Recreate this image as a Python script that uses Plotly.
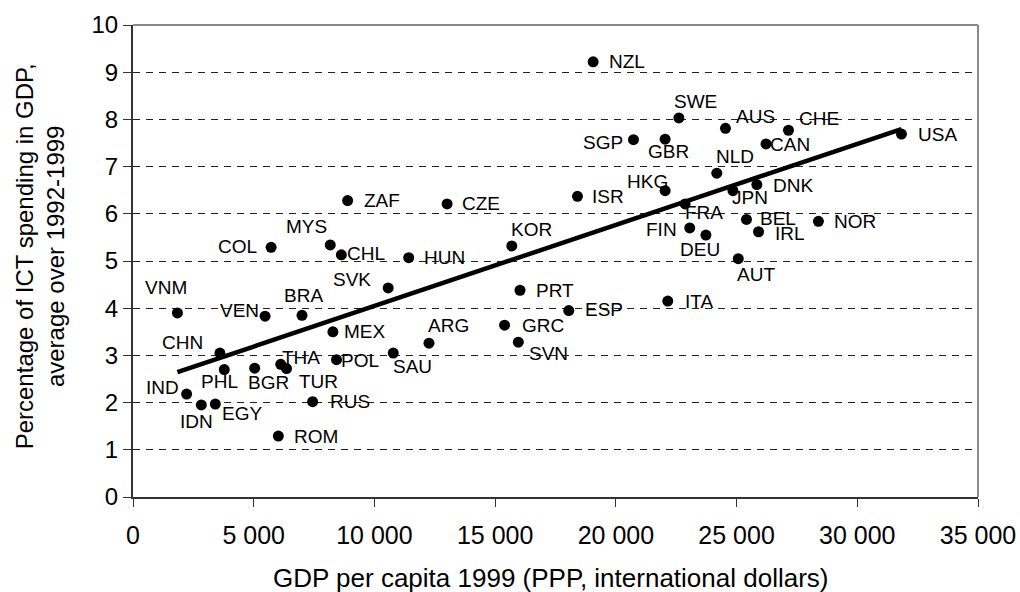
import numpy as np
import plotly.graph_objects as go

# ---- data ----
countries = ["NZL", "SWE", "AUS", "CHE", "SGP", "GBR", "CAN", "USA", "NLD", "DNK",
             "HKG", "JPN", "ISR", "FRA", "ZAF", "CZE", "BEL", "NOR", "FIN", "IRL",
             "DEU", "MYS", "KOR", "COL", "CHL", "HUN", "AUT", "SVK", "PRT", "ITA",
             "ESP", "VNM", "BRA", "VEN", "GRC", "MEX", "SVN", "ARG", "CHN", "SAU",
             "POL", "THA", "BGR", "TUR", "PHL", "IND", "RUS", "EGY", "IDN", "ROM"]
gdp_per_capita = [19060, 22610, 24540, 27150, 20730, 22040, 26220, 31830, 24180, 25840,
                  22040, 24850, 18410, 22870, 8890, 13010, 25410, 28390, 23060, 25910,
                  23730, 8170, 15690, 5720, 8630, 11420, 25070, 10570, 16030, 22150,
                  18050, 1840, 7000, 5470, 15390, 8280, 15960, 12260, 3600, 10780,
                  8430, 6120, 5040, 6360, 3780, 2220, 7440, 3410, 2830, 6020]
ict_share = [9.22, 8.03, 7.81, 7.77, 7.57, 7.58, 7.48, 7.69, 6.86, 6.62,
             6.49, 6.49, 6.37, 6.21, 6.28, 6.21, 5.88, 5.84, 5.70, 5.62,
             5.55, 5.34, 5.32, 5.29, 5.13, 5.07, 5.05, 4.43, 4.38, 4.15,
             3.95, 3.90, 3.85, 3.83, 3.64, 3.50, 3.28, 3.26, 3.05, 3.05,
             2.91, 2.81, 2.73, 2.72, 2.70, 2.18, 2.02, 1.97, 1.95, 1.29]
x_ticks = [0, 5000, 10000, 15000, 20000, 25000, 30000, 35000]
y_ticks = list(range(0, 11))

# ---- label placement (style: pixel offsets of label centre from point) ----
label_offsets = {
    "NZL": (34, 0), "SWE": (17, -16), "AUS": (30, -12), "CHE": (31, -12),
    "SGP": (-30, 3), "GBR": (3, 12), "CAN": (24, 1), "USA": (36, 0),
    "NLD": (18, -17), "DNK": (36, 1), "HKG": (-18, -9), "JPN": (17, 7),
    "ISR": (31, 0), "FRA": (19, 9), "ZAF": (34, 0), "CZE": (34, 0),
    "BEL": (32, -1), "NOR": (37, 0), "FIN": (-28, 2), "IRL": (31, 2),
    "DEU": (-6, 14), "MYS": (-24, -18), "KOR": (20, -16), "COL": (-34, -1),
    "CHL": (25, -1), "HUN": (36, 0), "AUT": (18, 16), "SVK": (-36, -8),
    "PRT": (35, 0), "ITA": (31, 0), "ESP": (35, -1), "VNM": (-11, -25),
    "BRA": (1, -20), "VEN": (-26, -6), "GRC": (38, 0), "MEX": (32, 0),
    "SVN": (30, 11), "ARG": (20, -18), "CHN": (-37, -11), "SAU": (19, 13),
    "POL": (23, 1), "THA": (20, -7), "BGR": (14, 14), "TUR": (32, 13),
    "PHL": (-5, 12), "IND": (-24, -7), "RUS": (37, 0), "EGY": (27, 9),
    "IDN": (-5, 17), "ROM": (38, 0),
}

FONT = "Liberation Sans, Arial, Helvetica, sans-serif"

x = np.array(gdp_per_capita, dtype=float)
y = np.array(ict_share, dtype=float)
slope, intercept = np.polyfit(x, y, 1)
trend_x = np.array([x.min(), x.max()])
trend_y = intercept + slope * trend_x

fig = go.Figure()
fig.add_trace(go.Scatter(
    x=trend_x, y=trend_y, mode="lines",
    line=dict(color="black", width=4.5), hoverinfo="skip", showlegend=False,
))
fig.add_trace(go.Scatter(
    x=gdp_per_capita, y=ict_share, mode="markers",
    marker=dict(color="black", size=11), text=countries, showlegend=False,
))

annotations = []
for c, gx, iy in zip(countries, gdp_per_capita, ict_share):
    dx, dy = label_offsets[c]
    annotations.append(dict(
        x=gx, y=iy, xref="x", yref="y", text=c, showarrow=False,
        xshift=dx, yshift=-dy, xanchor="center", yanchor="middle",
        font=dict(family=FONT, size=19, color="black"),
    ))

annotations.append(dict(
    x=0.4935, y=-0.172, xref="paper", yref="paper",
    xanchor="center", yanchor="middle",
    text="GDP per capita 1999 (PPP, international dollars)", showarrow=False,
    font=dict(family=FONT, size=26, color="black"),
))
annotations.append(dict(
    x=-0.110, y=0.51, xref="paper", yref="paper", textangle=-90,
    xanchor="center", yanchor="middle",
    text="Percentage of ICT spending in GDP,<br>average over 1992-1999", showarrow=False,
    font=dict(family=FONT, size=24, color="black"),
))

fig.update_layout(
    width=1020, height=592,
    margin=dict(l=133, r=42, t=25, b=95),
    paper_bgcolor="white", plot_bgcolor="white",
    separators=". ",
    font=dict(family=FONT, color="black"),
    annotations=annotations,
    shapes=[
        dict(type="line", xref="paper", yref="paper", x0=0, x1=1, y0=1, y1=1,
             line=dict(color="#888888", width=2)),
        dict(type="line", xref="paper", yref="paper", x0=1, x1=1, y0=0, y1=1,
             line=dict(color="#888888", width=2)),
    ],
    xaxis=dict(
        range=[0, 35000], tickvals=x_ticks, tickformat=",d", automargin=False,
        showgrid=False, zeroline=False,
        showline=True, linecolor="#333333", linewidth=2,
        ticks="outside", ticklen=8, tickcolor="#333333", ticklabelstandoff=7,
        tickfont=dict(family=FONT, size=25, color="black"),
    ),
    yaxis=dict(
        range=[0, 10], tickvals=y_ticks, automargin=False,
        showgrid=True, gridcolor="#222222", gridwidth=1, griddash="7px,6px",
        zeroline=False,
        showline=True, linecolor="#333333", linewidth=2,
        ticks="outside", ticklen=8, tickcolor="#333333",
        tickfont=dict(family=FONT, size=24, color="black"),
    ),
)

fig.write_html(
    "out.html",
    config={"displayModeBar": False},
    post_script="document.body.style.margin='0';document.body.style.overflow='hidden';",
)
